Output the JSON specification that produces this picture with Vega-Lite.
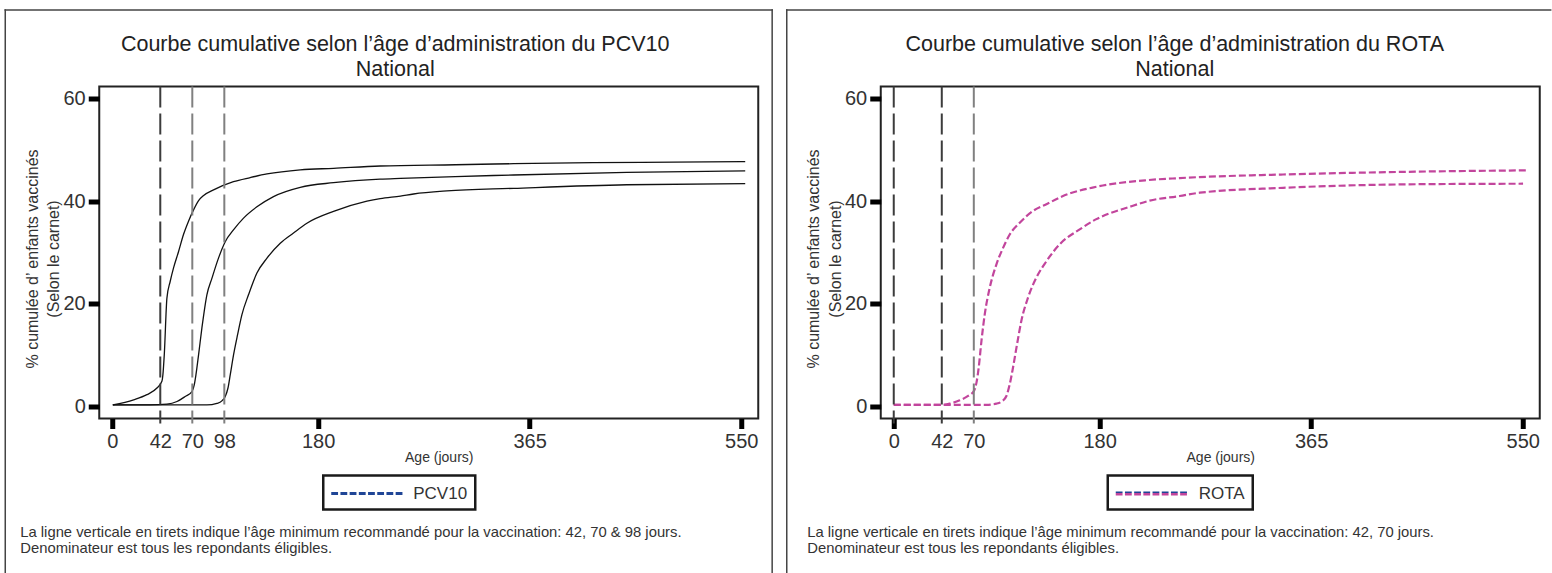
{
  "$schema": "https://vega.github.io/schema/vega-lite/v6.json",
  "padding": {"left": 2.25, "top": 7.5, "right": 0, "bottom": 0},
  "background": "white",
  "spacing": 9.5,
  "config": {
    "font": "Liberation Sans",
    "view": {"stroke": "#222", "strokeWidth": 2},
    "axis": {"domain": false, "grid": false, "labelFontSize": 20, "labelColor": "#333", "tickColor": "#000", "tickWidth": 5, "labelPadding": 3, "titleFontWeight": "normal", "titleColor": "#333", "labelFlush": false, "labelOverlap": false},
    "axisX": {"tickSize": 10, "titleFontSize": 14},
    "axisY": {"tickSize": 11, "titleFontSize": 16}
  },
  "resolve": {"scale": {"color": "independent"}, "legend": {"color": "independent"}},
  "datasets": {
    "pcv": [
      {"vaccine": "PCV10", "dose": "1", "age": 0.5, "pct": 0.3},
      {"vaccine": "PCV10", "dose": "1", "age": 18.7, "pct": 1.3},
      {"vaccine": "PCV10", "dose": "1", "age": 30.3, "pct": 2.3},
      {"vaccine": "PCV10", "dose": "1", "age": 39.1, "pct": 3.6},
      {"vaccine": "PCV10", "dose": "1", "age": 43.4, "pct": 4.9},
      {"vaccine": "PCV10", "dose": "1", "age": 44.3, "pct": 6.2},
      {"vaccine": "PCV10", "dose": "1", "age": 45.5, "pct": 10.1},
      {"vaccine": "PCV10", "dose": "1", "age": 47.8, "pct": 21.1},
      {"vaccine": "PCV10", "dose": "1", "age": 50.7, "pct": 24.4},
      {"vaccine": "PCV10", "dose": "1", "age": 53.6, "pct": 27.0},
      {"vaccine": "PCV10", "dose": "1", "age": 58.0, "pct": 30.2},
      {"vaccine": "PCV10", "dose": "1", "age": 62.3, "pct": 33.5},
      {"vaccine": "PCV10", "dose": "1", "age": 66.7, "pct": 36.1},
      {"vaccine": "PCV10", "dose": "1", "age": 71.1, "pct": 38.3},
      {"vaccine": "PCV10", "dose": "1", "age": 75.5, "pct": 40.1},
      {"vaccine": "PCV10", "dose": "1", "age": 79.9, "pct": 41.1},
      {"vaccine": "PCV10", "dose": "1", "age": 88.6, "pct": 42.2},
      {"vaccine": "PCV10", "dose": "1", "age": 106.0, "pct": 43.8},
      {"vaccine": "PCV10", "dose": "1", "age": 120.7, "pct": 44.6},
      {"vaccine": "PCV10", "dose": "1", "age": 135.3, "pct": 45.3},
      {"vaccine": "PCV10", "dose": "1", "age": 164.4, "pct": 46.1},
      {"vaccine": "PCV10", "dose": "1", "age": 193.5, "pct": 46.4},
      {"vaccine": "PCV10", "dose": "1", "age": 234.3, "pct": 46.85},
      {"vaccine": "PCV10", "dose": "1", "age": 300.0, "pct": 47.1},
      {"vaccine": "PCV10", "dose": "1", "age": 350.9, "pct": 47.3},
      {"vaccine": "PCV10", "dose": "1", "age": 420.0, "pct": 47.5},
      {"vaccine": "PCV10", "dose": "1", "age": 490.8, "pct": 47.6},
      {"vaccine": "PCV10", "dose": "1", "age": 553.5, "pct": 47.7},
      {"vaccine": "PCV10", "dose": "2", "age": 0.5, "pct": 0.3},
      {"vaccine": "PCV10", "dose": "2", "age": 33.0, "pct": 0.3},
      {"vaccine": "PCV10", "dose": "2", "age": 47.8, "pct": 0.45},
      {"vaccine": "PCV10", "dose": "2", "age": 56.6, "pct": 0.97},
      {"vaccine": "PCV10", "dose": "2", "age": 63.8, "pct": 1.95},
      {"vaccine": "PCV10", "dose": "2", "age": 69.7, "pct": 2.9},
      {"vaccine": "PCV10", "dose": "2", "age": 71.7, "pct": 4.2},
      {"vaccine": "PCV10", "dose": "2", "age": 73.2, "pct": 6.2},
      {"vaccine": "PCV10", "dose": "2", "age": 75.5, "pct": 10.1},
      {"vaccine": "PCV10", "dose": "2", "age": 78.4, "pct": 15.3},
      {"vaccine": "PCV10", "dose": "2", "age": 82.8, "pct": 21.8},
      {"vaccine": "PCV10", "dose": "2", "age": 87.2, "pct": 25.0},
      {"vaccine": "PCV10", "dose": "2", "age": 92.9, "pct": 28.9},
      {"vaccine": "PCV10", "dose": "2", "age": 98.8, "pct": 32.1},
      {"vaccine": "PCV10", "dose": "2", "age": 106.0, "pct": 34.4},
      {"vaccine": "PCV10", "dose": "2", "age": 114.8, "pct": 36.7},
      {"vaccine": "PCV10", "dose": "2", "age": 126.5, "pct": 38.9},
      {"vaccine": "PCV10", "dose": "2", "age": 141.0, "pct": 40.9},
      {"vaccine": "PCV10", "dose": "2", "age": 164.4, "pct": 42.7},
      {"vaccine": "PCV10", "dose": "2", "age": 193.5, "pct": 43.6},
      {"vaccine": "PCV10", "dose": "2", "age": 234.3, "pct": 44.3},
      {"vaccine": "PCV10", "dose": "2", "age": 252.0, "pct": 44.45},
      {"vaccine": "PCV10", "dose": "2", "age": 300.0, "pct": 44.8},
      {"vaccine": "PCV10", "dose": "2", "age": 350.9, "pct": 45.1},
      {"vaccine": "PCV10", "dose": "2", "age": 450.0, "pct": 45.6},
      {"vaccine": "PCV10", "dose": "2", "age": 553.5, "pct": 45.9},
      {"vaccine": "PCV10", "dose": "3", "age": 0.5, "pct": 0.3},
      {"vaccine": "PCV10", "dose": "3", "age": 40.0, "pct": 0.3},
      {"vaccine": "PCV10", "dose": "3", "age": 82.8, "pct": 0.3},
      {"vaccine": "PCV10", "dose": "3", "age": 91.5, "pct": 0.6},
      {"vaccine": "PCV10", "dose": "3", "age": 95.9, "pct": 1.1},
      {"vaccine": "PCV10", "dose": "3", "age": 98.8, "pct": 1.95},
      {"vaccine": "PCV10", "dose": "3", "age": 101.2, "pct": 3.6},
      {"vaccine": "PCV10", "dose": "3", "age": 103.2, "pct": 6.2},
      {"vaccine": "PCV10", "dose": "3", "age": 106.1, "pct": 10.1},
      {"vaccine": "PCV10", "dose": "3", "age": 109.6, "pct": 14.0},
      {"vaccine": "PCV10", "dose": "3", "age": 113.4, "pct": 17.9},
      {"vaccine": "PCV10", "dose": "3", "age": 119.2, "pct": 21.8},
      {"vaccine": "PCV10", "dose": "3", "age": 126.5, "pct": 26.0},
      {"vaccine": "PCV10", "dose": "3", "age": 135.3, "pct": 28.9},
      {"vaccine": "PCV10", "dose": "3", "age": 146.9, "pct": 31.8},
      {"vaccine": "PCV10", "dose": "3", "age": 158.5, "pct": 33.8},
      {"vaccine": "PCV10", "dose": "3", "age": 170.2, "pct": 35.7},
      {"vaccine": "PCV10", "dose": "3", "age": 193.5, "pct": 38.0},
      {"vaccine": "PCV10", "dose": "3", "age": 222.7, "pct": 40.0},
      {"vaccine": "PCV10", "dose": "3", "age": 234.3, "pct": 40.5},
      {"vaccine": "PCV10", "dose": "3", "age": 252.0, "pct": 41.0},
      {"vaccine": "PCV10", "dose": "3", "age": 263.5, "pct": 41.4},
      {"vaccine": "PCV10", "dose": "3", "age": 292.6, "pct": 42.0},
      {"vaccine": "PCV10", "dose": "3", "age": 350.9, "pct": 42.5},
      {"vaccine": "PCV10", "dose": "3", "age": 450.0, "pct": 43.2},
      {"vaccine": "PCV10", "dose": "3", "age": 553.5, "pct": 43.4}
    ],
    "rota": [
      {"vaccine": "ROTA", "dose": "1", "age": 0, "pct": 0.3},
      {"vaccine": "ROTA", "dose": "1", "age": 40.2, "pct": 0.3},
      {"vaccine": "ROTA", "dose": "1", "age": 49.0, "pct": 0.55},
      {"vaccine": "ROTA", "dose": "1", "age": 57.7, "pct": 1.2},
      {"vaccine": "ROTA", "dose": "1", "age": 65.0, "pct": 2.05},
      {"vaccine": "ROTA", "dose": "1", "age": 70.0, "pct": 3.0},
      {"vaccine": "ROTA", "dose": "1", "age": 72.3, "pct": 4.6},
      {"vaccine": "ROTA", "dose": "1", "age": 74.3, "pct": 7.6},
      {"vaccine": "ROTA", "dose": "1", "age": 76.7, "pct": 12.8},
      {"vaccine": "ROTA", "dose": "1", "age": 79.6, "pct": 18.0},
      {"vaccine": "ROTA", "dose": "1", "age": 83.9, "pct": 23.1},
      {"vaccine": "ROTA", "dose": "1", "age": 89.8, "pct": 27.7},
      {"vaccine": "ROTA", "dose": "1", "age": 95.6, "pct": 30.9},
      {"vaccine": "ROTA", "dose": "1", "age": 101.4, "pct": 33.5},
      {"vaccine": "ROTA", "dose": "1", "age": 110.2, "pct": 35.8},
      {"vaccine": "ROTA", "dose": "1", "age": 121.8, "pct": 38.1},
      {"vaccine": "ROTA", "dose": "1", "age": 133.5, "pct": 39.4},
      {"vaccine": "ROTA", "dose": "1", "age": 148.0, "pct": 41.0},
      {"vaccine": "ROTA", "dose": "1", "age": 177.2, "pct": 42.8},
      {"vaccine": "ROTA", "dose": "1", "age": 222.0, "pct": 44.1},
      {"vaccine": "ROTA", "dose": "1", "age": 250.0, "pct": 44.5},
      {"vaccine": "ROTA", "dose": "1", "age": 340.4, "pct": 45.2},
      {"vaccine": "ROTA", "dose": "1", "age": 457.0, "pct": 45.75},
      {"vaccine": "ROTA", "dose": "1", "age": 553.2, "pct": 46.0},
      {"vaccine": "ROTA", "dose": "2", "age": 0, "pct": 0.3},
      {"vaccine": "ROTA", "dose": "2", "age": 81.0, "pct": 0.3},
      {"vaccine": "ROTA", "dose": "2", "age": 89.8, "pct": 0.55},
      {"vaccine": "ROTA", "dose": "2", "age": 95.0, "pct": 1.07},
      {"vaccine": "ROTA", "dose": "2", "age": 98.5, "pct": 2.05},
      {"vaccine": "ROTA", "dose": "2", "age": 101.4, "pct": 4.3},
      {"vaccine": "ROTA", "dose": "2", "age": 104.3, "pct": 7.6},
      {"vaccine": "ROTA", "dose": "2", "age": 107.8, "pct": 12.1},
      {"vaccine": "ROTA", "dose": "2", "age": 111.6, "pct": 16.7},
      {"vaccine": "ROTA", "dose": "2", "age": 117.4, "pct": 21.2},
      {"vaccine": "ROTA", "dose": "2", "age": 124.7, "pct": 25.1},
      {"vaccine": "ROTA", "dose": "2", "age": 133.5, "pct": 28.3},
      {"vaccine": "ROTA", "dose": "2", "age": 145.1, "pct": 31.6},
      {"vaccine": "ROTA", "dose": "2", "age": 162.6, "pct": 34.5},
      {"vaccine": "ROTA", "dose": "2", "age": 177.2, "pct": 36.5},
      {"vaccine": "ROTA", "dose": "2", "age": 206.3, "pct": 38.9},
      {"vaccine": "ROTA", "dose": "2", "age": 223.8, "pct": 40.1},
      {"vaccine": "ROTA", "dose": "2", "age": 250.0, "pct": 41.0},
      {"vaccine": "ROTA", "dose": "2", "age": 267.6, "pct": 41.65},
      {"vaccine": "ROTA", "dose": "2", "age": 340.4, "pct": 42.6},
      {"vaccine": "ROTA", "dose": "2", "age": 457.0, "pct": 43.3},
      {"vaccine": "ROTA", "dose": "2", "age": 550.3, "pct": 43.4}
    ]
  },
  "hconcat": [
    {
      "width": 659,
      "height": 332,
      "title": {"text": ["Courbe cumulative selon l’âge d’administration du PCV10", "National"], "orient": "top", "anchor": "middle", "frame": "bounds", "offset": -41, "dx": 6.5, "dy": 48, "baseline": "alphabetic", "fontSize": 21.5, "fontWeight": "normal", "color": "#222", "lineHeight": 25},
      "layer": [
        {
          "data": {"name": "pcv"},
          "mark": {"type": "line", "interpolate": "monotone", "strokeWidth": 1.3, "clip": false},
          "encoding": {
            "x": {"field": "age", "type": "quantitative",
              "scale": {"domain": [-11.37, 564.9], "nice": false, "zero": false},
              "axis": {"values": [0, 42, 70, 98, 180, 365, 550], "title": "Age (jours)", "titleX": 339.5, "titleY": 42.5, "titleBaseline": "alphabetic", "titleAlign": "center",
                "tickOpacity": {"condition": {"test": "datum.value === 42 || datum.value === 70 || datum.value === 98", "value": 0}, "value": 1}}},
            "y": {"field": "pct", "type": "quantitative",
              "scale": {"domain": [-2.34, 62.34], "nice": false, "zero": false},
              "axis": {"values": [0, 20, 40, 60], "title": ["% cumulée d’ enfants vaccinés", "(Selon le carnet)"], "titleX": -62, "titleY": 172, "titleAngle": -90, "titleBaseline": "alphabetic", "titleAlign": "center", "titleLineHeight": 21.5}},
            "color": {"field": "vaccine", "type": "nominal", "scale": {"range": ["#111111"]},
              "legend": {"orient": "none", "legendX": 224, "legendY": 389, "title": null, "padding": 8, "labelFontSize": 17, "labelColor": "#333", "labelOffset": 62, "symbolSize": 400, "fillColor": "white", "strokeColor": "#1a1a1a",
                "encode": {
                  "legend": {"update": {"strokeWidth": {"value": 2.5}}},
                  "symbols": {"update": {
                    "shape": {"value": "M-1,-0.15h0.68v0.3h-0.68Z M-0.08,-0.15h0.68v0.3h-0.68Z M0.84,-0.15h0.68v0.3h-0.68Z M1.76,-0.15h0.68v0.3h-0.68Z M2.68,-0.15h0.68v0.3h-0.68Z M3.6,-0.15h0.68v0.3h-0.68Z M4.52,-0.15h0.68v0.3h-0.68Z M5.44,-0.15h0.68v0.3h-0.68Z"},
                    "fill": {"value": "#1f4596"}, "fillOpacity": {"value": 1}, "stroke": {"value": "transparent"}, "strokeWidth": {"value": 0}, "opacity": {"value": 1}}}
                }}},
            "detail": {"field": "dose", "type": "nominal"}
          }
        },
        {
          "data": {"values": [{"age": 42}]},
          "mark": {"type": "rule", "color": "#3c3c3c", "strokeWidth": 2, "strokeDash": [21, 6], "clip": false},
          "encoding": {"x": {"field": "age", "type": "quantitative"}, "y": {"datum": 62.34}, "y2": {"datum": -3.3}}
        },
        {
          "data": {"values": [{"age": 70}, {"age": 98}]},
          "mark": {"type": "rule", "color": "#808080", "strokeWidth": 2, "strokeDash": [21, 6], "clip": false},
          "encoding": {"x": {"field": "age", "type": "quantitative"}, "y": {"datum": 62.34}, "y2": {"datum": -3.3}}
        },
        {
          "data": {"values": [{"note": ["La ligne verticale en tirets indique l’âge minimum recommandé pour la vaccination: 42, 70 & 98 jours.", "Denominateur est tous les repondants éligibles."]}]},
          "mark": {"type": "text", "align": "left", "baseline": "alphabetic", "fontSize": 14.8, "lineHeight": 16, "color": "#333", "clip": false},
          "encoding": {"x": {"datum": -80.44}, "y": {"datum": -25.33}, "text": {"field": "note"}}
        },
        {
          "data": {"values": [{}]},
          "mark": {"type": "rule", "color": "#444", "strokeWidth": 1.5, "strokeCap": "square", "clip": false},
          "encoding": {"x": {"datum": -93.56}, "y": {"datum": 77.24}, "y2": {"datum": -32.54}}
        },
        {
          "data": {"values": [{}]},
          "mark": {"type": "rule", "color": "#444", "strokeWidth": 1.5, "strokeCap": "square", "clip": false},
          "encoding": {"x": {"datum": 577.07}, "y": {"datum": 77.24}, "y2": {"datum": -32.54}}
        },
        {
          "data": {"values": [{}]},
          "mark": {"type": "rule", "color": "#444", "strokeWidth": 1.5, "strokeCap": "square", "clip": false},
          "encoding": {"x": {"datum": -93.56}, "x2": {"datum": 577.07}, "y": {"datum": 77.24}}
        }
      ]
    },
    {
      "width": 659,
      "height": 332,
      "title": {"text": ["Courbe cumulative selon l’âge d’administration du ROTA", "National"], "orient": "top", "anchor": "middle", "frame": "bounds", "offset": -41, "dx": 6, "dy": 48, "baseline": "alphabetic", "fontSize": 21.5, "fontWeight": "normal", "color": "#222", "lineHeight": 25},
      "layer": [
        {
          "data": {"name": "rota"},
          "mark": {"type": "line", "interpolate": "monotone", "strokeWidth": 2.2, "strokeDash": [7, 3], "clip": false},
          "encoding": {
            "x": {"field": "age", "type": "quantitative",
              "scale": {"domain": [-11.37, 564.9], "nice": false, "zero": false},
              "axis": {"values": [0, 42, 70, 180, 365, 550], "title": "Age (jours)", "titleX": 339.5, "titleY": 42.5, "titleBaseline": "alphabetic", "titleAlign": "center",
                "tickOpacity": {"condition": {"test": "datum.value === 42 || datum.value === 70", "value": 0}, "value": 1}}},
            "y": {"field": "pct", "type": "quantitative",
              "scale": {"domain": [-2.34, 62.34], "nice": false, "zero": false},
              "axis": {"values": [0, 20, 40, 60], "title": ["% cumulée d’ enfants vaccinés", "(Selon le carnet)"], "titleX": -62, "titleY": 172, "titleAngle": -90, "titleBaseline": "alphabetic", "titleAlign": "center", "titleLineHeight": 21.5}},
            "color": {"field": "vaccine", "type": "nominal", "scale": {"range": ["#c2459c"]},
              "legend": {"orient": "none", "legendX": 227, "legendY": 389, "title": null, "padding": 8, "labelFontSize": 17, "labelColor": "#333", "labelOffset": 63, "symbolSize": 400, "fillColor": "white", "strokeColor": "#1a1a1a",
                "encode": {
                  "legend": {"update": {"strokeWidth": {"value": 2.5}}},
                  "symbols": {"update": {
                    "shape": {"value": "M-1,-0.2h0.68v0.4h-0.68Z M-0.08,-0.2h0.68v0.4h-0.68Z M0.84,-0.2h0.68v0.4h-0.68Z M1.76,-0.2h0.68v0.4h-0.68Z M2.68,-0.2h0.68v0.4h-0.68Z M3.6,-0.2h0.68v0.4h-0.68Z M4.52,-0.2h0.68v0.4h-0.68Z M5.44,-0.2h0.68v0.4h-0.68Z"},
                    "fill": {"value": {"gradient": "linear", "x1": 0, "y1": 0, "x2": 0, "y2": 1, "stops": [{"offset": 0, "color": "#1f4596"}, {"offset": 0.5, "color": "#1f4596"}, {"offset": 0.5, "color": "#c2459c"}, {"offset": 1, "color": "#c2459c"}]}},
                    "fillOpacity": {"value": 1}, "stroke": {"value": "transparent"}, "strokeWidth": {"value": 0}, "strokeDash": {"value": [1, 0]}, "opacity": {"value": 1}}}
                }}},
            "detail": {"field": "dose", "type": "nominal"}
          }
        },
        {
          "data": {"values": [{"age": 0}, {"age": 42}]},
          "mark": {"type": "rule", "color": "#3c3c3c", "strokeWidth": 2, "strokeDash": [21, 6], "clip": false},
          "encoding": {"x": {"field": "age", "type": "quantitative"}, "y": {"datum": 62.34}, "y2": {"datum": -3.3}}
        },
        {
          "data": {"values": [{"age": 70}]},
          "mark": {"type": "rule", "color": "#808080", "strokeWidth": 2, "strokeDash": [21, 6], "clip": false},
          "encoding": {"x": {"field": "age", "type": "quantitative"}, "y": {"datum": 62.34}, "y2": {"datum": -3.3}}
        },
        {
          "data": {"values": [{"note": ["La ligne verticale en tirets indique l’âge minimum recommandé pour la vaccination: 42, 70 jours.", "Denominateur est tous les repondants éligibles."]}]},
          "mark": {"type": "text", "align": "left", "baseline": "alphabetic", "fontSize": 14.8, "lineHeight": 16, "color": "#333", "clip": false},
          "encoding": {"x": {"datum": -75.64}, "y": {"datum": -25.33}, "text": {"field": "note"}}
        },
        {
          "data": {"values": [{}]},
          "mark": {"type": "rule", "color": "#444", "strokeWidth": 1.5, "strokeCap": "square", "clip": false},
          "encoding": {"x": {"datum": -93.56}, "y": {"datum": 77.24}, "y2": {"datum": -32.54}}
        },
        {
          "data": {"values": [{}]},
          "mark": {"type": "rule", "color": "#444", "strokeWidth": 1.5, "strokeCap": "square", "clip": false},
          "encoding": {"x": {"datum": -93.56}, "x2": {"datum": 574.45}, "y": {"datum": 77.24}}
        }
      ]
    }
  ]
}
